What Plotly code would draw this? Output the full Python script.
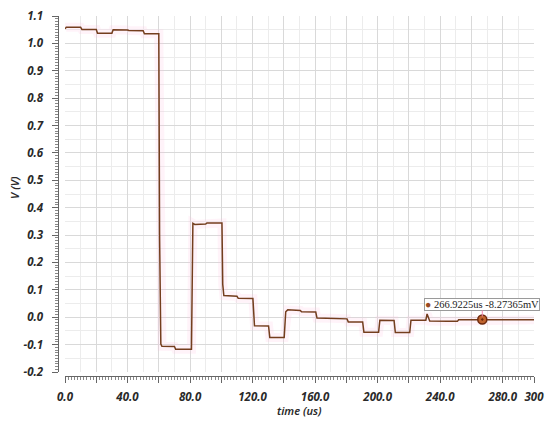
import plotly.graph_objects as go

# ---- data ----
time_us = [0, 0.8, 10, 10.8, 20, 20.8, 30, 30.8, 40, 40.8, 50, 50.8, 60, 60.5, 61.3, 62.0,
           70, 70.8, 80.9, 81.3, 81.8, 83.0, 90, 90.8, 100.4, 100.9, 101.6,
           110, 110.8, 120.2, 121.2, 130.2, 131.0, 140.2, 141.2, 142.5, 150.5, 151.3,
           160.4, 161.2, 170, 180.4, 181.2, 190.4, 191.2, 200.6, 201.4, 210.5, 211.3,
           220.5, 221.3, 230.8, 231.6, 232.4, 233.3, 245, 251.0, 251.8, 300]
volts = [1.053, 1.059, 1.059, 1.051, 1.051, 1.037, 1.037, 1.050, 1.049, 1.047, 1.046, 1.035, 1.035, 0.3, -0.098, -0.106,
         -0.107, -0.117, -0.117, 0.30, 0.343, 0.339, 0.340, 0.344, 0.344, 0.12, 0.079,
         0.077, 0.069, 0.068, -0.031, -0.032, -0.074, -0.074, 0.020, 0.027, 0.025, 0.020,
         0.019, -0.003, -0.004, -0.006, -0.017, -0.017, -0.055, -0.055, -0.011, -0.012, -0.056,
         -0.056, -0.011, -0.011, 0.012, 0.002, -0.014, -0.015, -0.015, -0.009, -0.009]

marker_t = [266.9225]
marker_v = [-0.00827365]
marker_label = "266.9225us -8.27365mV"

x_tickvals = [0, 20, 40, 60, 80, 100, 120, 140, 160, 180, 200, 220, 240, 260, 280, 300]
x_ticktext = ["0.0", "", "40.0", "", "80.0", "", "120.0", "", "160.0", "", "200.0", "", "240.0", "", "280.0", "300"]
y_tickvals = [-0.2, -0.1, 0.0, 0.1, 0.2, 0.3, 0.4, 0.5, 0.6, 0.7, 0.8, 0.9, 1.0, 1.1]
y_ticktext = ["-0.2", "-0.1", "0.0", "0.1", "0.2", "0.3", "0.4", "0.5", "0.6", "0.7", "0.8", "0.9", "1.0", "1.1"]

x_title = "time (us)"
y_title = "V (V)"

# ---- geometry ----
W, H = 550, 425
ml, mr, mt, mb = 45, 10, 10, 40
pw, ph = W - ml - mr, H - mt - mb
x_dom = [(65 - ml) / pw, (534 - ml) / pw]
y_dom = [(H - mb - 372) / ph, (H - mb - 16) / ph]
yline_pos = (57.5 - ml) / pw
xline_pos = (H - mb - 376) / ph

XR = [0, 300]
YR = [-0.2, 1.1]

line_col = "#743e1e"
tickfont = dict(family="Noto Sans", size=11.5, color="#2a2a2a", weight="bold", style="italic")

fig = go.Figure()
# glow
fig.add_trace(go.Scatter(x=time_us, y=volts, mode="lines",
                         line=dict(color="rgba(255,190,220,0.18)", width=9),
                         hoverinfo="skip", showlegend=False))
fig.add_trace(go.Scatter(x=time_us, y=volts, mode="lines",
                         line=dict(color=line_col, width=1.5),
                         showlegend=False))
fig.add_trace(go.Scatter(x=marker_t, y=marker_v, mode="markers",
                         marker=dict(symbol="circle-dot", size=9, color="#c0642e",
                                     line=dict(color="#6e2a0c", width=1.5)),
                         showlegend=False))
# dummy for overlay axes
fig.add_trace(go.Scatter(x=[None], y=[None], xaxis="x2", yaxis="y2",
                         mode="lines", showlegend=False, hoverinfo="skip"))

fig.update_layout(
    width=W, height=H,
    margin=dict(l=ml, r=mr, t=mt, b=mb, autoexpand=False),
    paper_bgcolor="white", plot_bgcolor="white",
    showlegend=False,
    xaxis=dict(domain=x_dom, range=XR, showticklabels=False, ticks="", showline=False,
               automargin=False,
               zeroline=False, showgrid=True, gridcolor="#d9d9d9", gridwidth=1,
               tick0=0, dtick=20,
               minor=dict(tick0=0, dtick=10, showgrid=True, gridcolor="#ececec", ticks="")),
    yaxis=dict(domain=y_dom, range=YR, showticklabels=False, ticks="", showline=False,
               automargin=False,
               zeroline=False, showgrid=True, gridcolor="#d9d9d9", gridwidth=1,
               tick0=0, dtick=0.1,
               minor=dict(tick0=0, dtick=0.05, showgrid=True, gridcolor="#ececec", ticks="")),
    xaxis2=dict(overlaying="x", anchor="free", position=xline_pos, range=XR,
                automargin=False,
                showgrid=False, zeroline=False, showline=True, linecolor="#666", linewidth=1,
                tickmode="array", tickvals=x_tickvals, ticktext=x_ticktext,
                ticks="outside", ticklen=6, tickcolor="#666", tickwidth=1,
                tickfont=tickfont, ticklabelstandoff=4,
                minor=dict(tickmode="linear", tick0=0, dtick=2, ticks="outside",
                           ticklen=3, tickcolor="#888", showgrid=False)),
    yaxis2=dict(overlaying="y", anchor="free", position=yline_pos, side="left", range=YR,
                automargin=False,
                showgrid=False, zeroline=False, showline=True, linecolor="#666", linewidth=1,
                tickmode="array", tickvals=y_tickvals, ticktext=y_ticktext,
                ticks="outside", ticklen=6, tickcolor="#666", tickwidth=1,
                tickfont=tickfont, ticklabelstandoff=6,
                minor=dict(tickmode="linear", tick0=0, dtick=0.01, ticks="outside",
                           ticklen=3, tickcolor="#888", showgrid=False)),
    annotations=[
        dict(text=x_title, xref="paper", yref="paper",
             x=(299.5 - ml) / pw, y=(H - mb - 410) / ph, showarrow=False,
             xanchor="center", yanchor="middle",
             font=dict(family="Noto Sans", size=11, color="#2a2a2a", style="italic", weight=600)),
        dict(text=y_title, xref="paper", yref="paper",
             x=(14 - ml) / pw, y=(H - mb - 188) / ph, showarrow=False, textangle=-90,
             xanchor="center", yanchor="middle",
             font=dict(family="Noto Sans", size=11, color="#2a2a2a", style="italic", weight=600)),
        dict(text="<span style='color:#9a4a22'>●</span> " + marker_label,
             x=marker_t[0], y=marker_v[0], xref="x", yref="y",
             showarrow=True, ax=0, ay=-15, arrowhead=0, arrowcolor="#f08ab0", arrowwidth=1,
             standoff=3,
             bgcolor="white", bordercolor="#9a9a9a", borderwidth=1, borderpad=0,
             font=dict(family="Liberation Serif", size=10.5, color="#222")),
    ],
)

fig.write_html("out.html", config={"displayModeBar": False},
               post_script="document.body.style.margin='0';document.body.style.overflow='hidden';")
